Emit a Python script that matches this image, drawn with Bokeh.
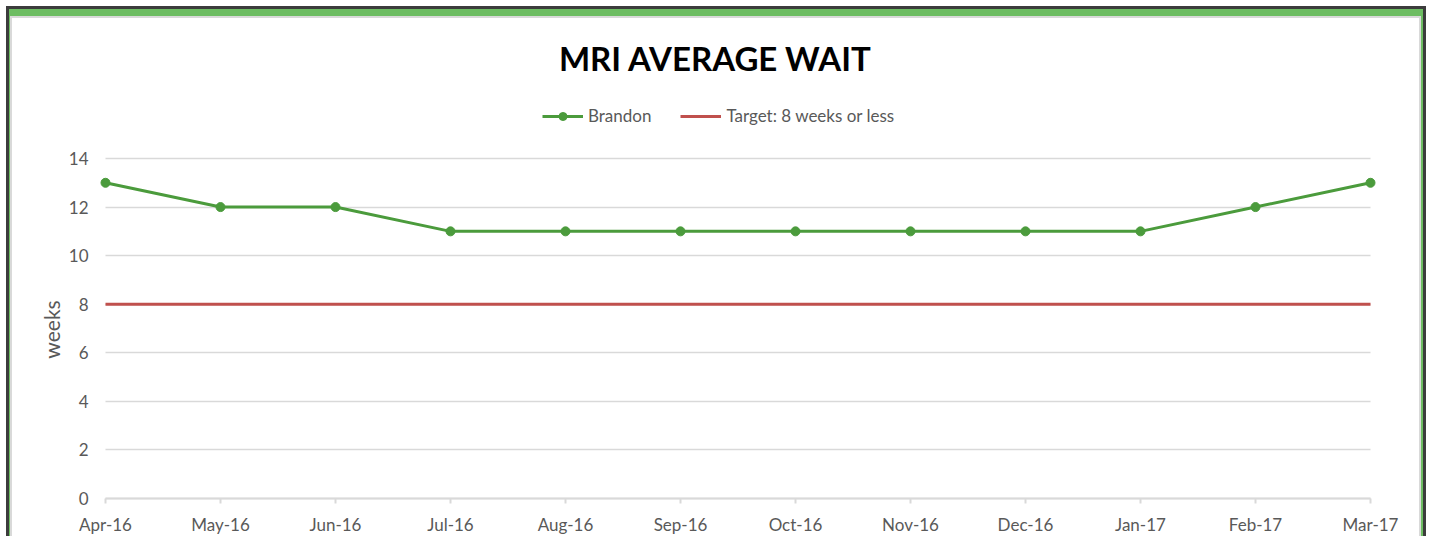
import math
from bokeh.plotting import figure
from bokeh.models import (Range1d, FixedTicker, Legend, LegendItem, Label,
                          ColumnDataSource)
from bokeh.embed import file_html
from bokeh.resources import INLINE

months = ["Apr-16", "May-16", "Jun-16", "Jul-16", "Aug-16", "Sep-16",
          "Oct-16", "Nov-16", "Dec-16", "Jan-17", "Feb-17", "Mar-17"]
brandon = [13, 12, 12, 11, 11, 11, 11, 11, 11, 11, 12, 13]
target = [8, 8, 8, 8, 8, 8, 8, 8, 8, 8, 8, 8]
y_ticks = [0, 2, 4, 6, 8, 10, 12, 14]

xs = list(range(len(months)))
src = ColumnDataSource(data=dict(x=xs, brandon=brandon, target=target, month=months))

W, H = 1429, 536
# plot area in pixels (left, right, top, bottom) of the data region
PL, PR, PT, PB = 105, 1370, 158, 498
nx = len(months) - 1
ymax = 14
xpx = (PR - PL) / nx
ypx = (PB - PT) / ymax
x_range = Range1d(-PL / xpx, nx + (W - PR) / xpx)
y_range = Range1d(-(H - PB) / ypx, ymax + PT / ypx)

p = figure(width=W, height=H, output_backend="svg", toolbar_location=None,
           x_range=x_range, y_range=y_range,
           min_border_left=0, min_border_right=0, min_border_top=0,
           min_border_bottom=0)
p.outline_line_color = None
p.background_fill_color = None
p.border_fill_color = None

GREEN = "#4b9b3c"
RED = "#c0504d"
GRAY_TXT = "#595959"
GRID = "#d9d9d9"
FONT = "Lato"

# gridlines limited to the data region
yg = p.ygrid[0]
if "cross_bounds" in yg.properties():
    yg.grid_line_color = GRID
    yg.grid_line_width = 1.5
    yg.cross_bounds = (0, nx)
else:
    yg.grid_line_color = None
    p.segment(x0=[0] * len(y_ticks), x1=[nx] * len(y_ticks), y0=y_ticks,
              y1=y_ticks, line_color=GRID, line_width=1.5)
p.xgrid.grid_line_color = None

red = p.line("x", "target", source=src, line_color=RED, line_width=3)
gl = p.line("x", "brandon", source=src, line_color=GREEN, line_width=3)
gc = p.scatter("x", "brandon", source=src, size=9, fill_color=GREEN,
               line_color=GREEN)

# axes (placed at data zero, inside the canvas)
xa = p.xaxis[0]
xa.fixed_location = 0
xa.bounds = (0, nx)
xa.ticker = FixedTicker(ticks=xs)
xa.major_label_overrides = {i: m for i, m in enumerate(months)}
xa.axis_line_color = GRID
xa.axis_line_width = 2
xa.major_tick_line_color = GRID
xa.major_tick_line_width = 2
xa.major_tick_out = 5
xa.major_tick_in = 0
xa.minor_tick_line_color = None
xa.major_label_standoff = 10
xa.major_label_text_font = FONT
xa.major_label_text_font_size = "17px"
xa.major_label_text_color = GRAY_TXT

ya = p.yaxis[0]
ya.fixed_location = 0
ya.bounds = (0, ymax)
ya.ticker = FixedTicker(ticks=y_ticks)
ya.axis_line_color = None
ya.major_tick_line_color = None
ya.minor_tick_line_color = None
ya.major_label_standoff = 11
ya.major_label_text_font = FONT
ya.major_label_text_font_size = "17px"
ya.major_label_text_color = GRAY_TXT

# y axis title
p.add_layout(Label(x=51, y=H - 329, x_units="screen", y_units="screen",
                   text="weeks", angle=math.pi / 2, text_font=FONT,
                   text_font_size="21px", text_color=GRAY_TXT,
                   text_align="center", text_baseline="middle"))

# chart title
p.add_layout(Label(x=715, y=H - 57, x_units="screen", y_units="screen",
                   text="MRI AVERAGE WAIT", text_font=FONT,
                   text_font_size="33px", text_font_style="bold",
                   text_color="black", text_align="center",
                   text_baseline="middle"))

legend = Legend(items=[LegendItem(label="Brandon", renderers=[gl, gc]),
                       LegendItem(label="Target: 8 weeks or less", renderers=[red])],
                orientation="horizontal", location=(542, H - 126),
                border_line_color=None, background_fill_alpha=0,
                padding=0, margin=0, spacing=29, glyph_width=41,
                glyph_height=20, label_standoff=5, label_text_font=FONT,
                label_text_font_size="17px", label_text_color=GRAY_TXT)
p.add_layout(legend, "center")

# decorative frame drawn with inset shadows behind the transparent canvas
DARK = "#3c3c3c"
LG = "#6dbd62"
LIGHT = "#d9d9d9"
shadows = [
    "inset 0 6px 0 0 #ffffff", "inset 6px 0 0 0 #ffffff", "inset -3px 0 0 0 #ffffff",
    f"inset 0 9px 0 0 {DARK}", f"inset 9px 0 0 0 {DARK}", f"inset -6px 0 0 0 {DARK}",
    f"inset 0 16px 0 0 {LG}", f"inset 10px 0 0 0 {LG}", f"inset -8px 0 0 0 {LG}",
    f"inset 0 18px 0 0 {LIGHT}", f"inset 12px 0 0 0 {LIGHT}", f"inset -10px 0 0 0 {LIGHT}",
]
p.styles = {"box-shadow": ", ".join(shadows), "background-color": "#ffffff"}

open("out.html", "w").write(file_html(p, INLINE))
